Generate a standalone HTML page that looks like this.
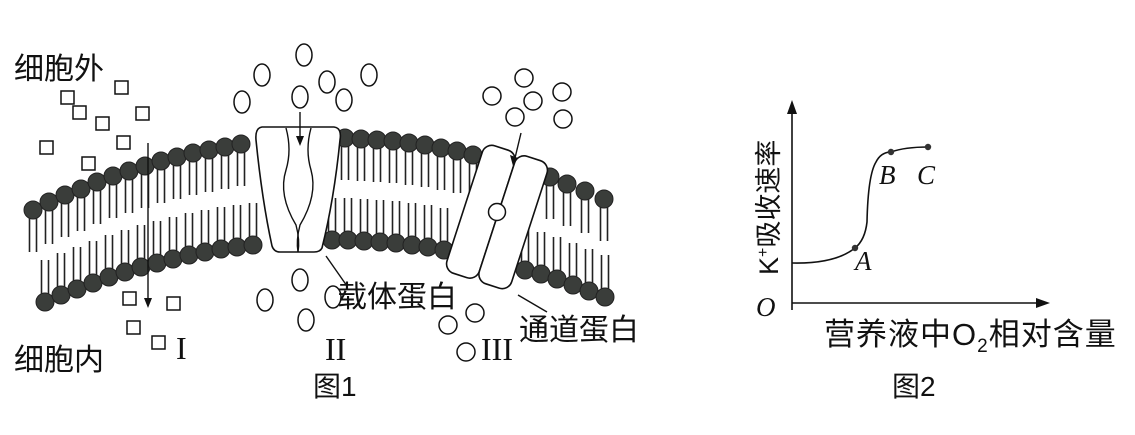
<!DOCTYPE html>
<html><head><meta charset="utf-8"><style>
html,body{margin:0;padding:0;background:#fff;}
svg{display:block;}
text{font-family:"Liberation Serif","Noto Serif CJK SC",serif;fill:#111;}
.cjk{font-family:"Liberation Sans","Noto Sans CJK SC",sans-serif;}
</style></head><body>
<svg width="1135" height="435" viewBox="0 0 1135 435" xmlns="http://www.w3.org/2000/svg">
<defs>
<g id="tp"><line x1="-3.5" y1="0" x2="-3.5" y2="42" stroke="#222" stroke-width="1.6"/><line x1="3.5" y1="0" x2="3.5" y2="42" stroke="#222" stroke-width="1.6"/><circle r="9" fill="#3a3d3a" stroke="#222" stroke-width="1"/></g>
<g id="bt"><line x1="-3.5" y1="0" x2="-3.5" y2="-42" stroke="#222" stroke-width="1.6"/><line x1="3.5" y1="0" x2="3.5" y2="-42" stroke="#222" stroke-width="1.6"/><circle r="9" fill="#3a3d3a" stroke="#222" stroke-width="1"/></g>
<rect id="sq" width="13" height="13" fill="#fff" stroke="#111" stroke-width="1.5"/>
<ellipse id="ci" rx="8" ry="11" fill="#fff" stroke="#111" stroke-width="1.5"/>
</defs>
<g>
<use href="#tp" x="33" y="210"/><use href="#tp" x="49" y="202"/><use href="#tp" x="65" y="195"/><use href="#tp" x="81" y="189"/><use href="#tp" x="97" y="182"/><use href="#tp" x="113" y="176"/><use href="#tp" x="129" y="171"/><use href="#tp" x="145" y="166"/><use href="#tp" x="161" y="161"/><use href="#tp" x="177" y="157"/><use href="#tp" x="193" y="153"/><use href="#tp" x="209" y="150"/><use href="#tp" x="225" y="147"/><use href="#tp" x="241" y="144"/>
<use href="#tp" x="345" y="138"/><use href="#tp" x="361" y="139"/><use href="#tp" x="377" y="140"/><use href="#tp" x="393" y="141"/><use href="#tp" x="409" y="143"/><use href="#tp" x="425" y="145"/><use href="#tp" x="441" y="148"/><use href="#tp" x="457" y="151"/><use href="#tp" x="473" y="155"/>
<use href="#tp" x="550" y="177"/><use href="#tp" x="567" y="184"/><use href="#tp" x="585" y="191"/><use href="#tp" x="604" y="199"/>
<use href="#bt" x="45" y="302"/><use href="#bt" x="61" y="295"/><use href="#bt" x="77" y="289"/><use href="#bt" x="93" y="283"/><use href="#bt" x="109" y="277"/><use href="#bt" x="125" y="272"/><use href="#bt" x="141" y="267"/><use href="#bt" x="157" y="263"/><use href="#bt" x="173" y="259"/><use href="#bt" x="189" y="255"/><use href="#bt" x="205" y="252"/><use href="#bt" x="221" y="249"/><use href="#bt" x="237" y="247"/><use href="#bt" x="253" y="245"/>
<use href="#bt" x="332" y="240"/><use href="#bt" x="348" y="240"/><use href="#bt" x="364" y="241"/><use href="#bt" x="380" y="242"/><use href="#bt" x="396" y="243"/><use href="#bt" x="412" y="245"/><use href="#bt" x="428" y="247"/><use href="#bt" x="444" y="250"/>
<use href="#bt" x="525" y="270"/><use href="#bt" x="541" y="274"/><use href="#bt" x="557" y="279"/><use href="#bt" x="573" y="285"/><use href="#bt" x="589" y="291"/><use href="#bt" x="605" y="297"/>
</g>
<path d="M262,127 L334,127 Q342,128 340,140 Q334,200 322,248 Q320,252 314,252 L280,252 Q274,252 272,246 Q262,200 256,140 Q255,128 262,127 Z" fill="#fff" stroke="#111" stroke-width="1.6"/>
<path d="M286,128 Q292,150 286,170 Q278,195 296,225 Q300,240 298,252" fill="none" stroke="#111" stroke-width="1.4"/>
<path d="M311,128 Q305,150 311,170 Q318,195 300,225 Q296,240 298,252" fill="none" stroke="#111" stroke-width="1.4"/>
<line x1="300" y1="112" x2="300" y2="142" stroke="#111" stroke-width="1.4"/><polygon points="296,136 304,136 300,146" fill="#111"/>
<g transform="translate(497,217) rotate(18)">
<rect x="-34" y="-67" width="34" height="134" rx="10" fill="#fff" stroke="#111" stroke-width="1.6"/>
<rect x="0" y="-67" width="34" height="134" rx="10" fill="#fff" stroke="#111" stroke-width="1.6"/>
</g>
<circle cx="497" cy="212" r="8.5" fill="#fff" stroke="#111" stroke-width="1.5"/>
<line x1="521" y1="133" x2="515" y2="158" stroke="#111" stroke-width="1.4"/><polygon points="510,155 518,158 513,166" fill="#111"/>
<line x1="148" y1="143" x2="148" y2="300" stroke="#111" stroke-width="1.4"/><polygon points="144,298 152,298 148,308" fill="#111"/>
<use href="#sq" x="61" y="91"/><use href="#sq" x="115" y="81"/><use href="#sq" x="73" y="106"/><use href="#sq" x="96" y="117"/><use href="#sq" x="136" y="107"/><use href="#sq" x="40" y="141"/><use href="#sq" x="117" y="136"/><use href="#sq" x="82" y="157"/>
<use href="#sq" x="123" y="292"/><use href="#sq" x="167" y="297"/><use href="#sq" x="127" y="321"/><use href="#sq" x="152" y="336"/>
<use href="#ci" x="304" y="55"/><use href="#ci" x="262" y="75"/><use href="#ci" x="369" y="75"/><use href="#ci" x="242" y="102"/><use href="#ci" x="300" y="97"/><use href="#ci" x="327" y="82"/><use href="#ci" x="344" y="100"/>
<use href="#ci" x="300" y="280"/><use href="#ci" x="265" y="300"/><use href="#ci" x="333" y="297"/><use href="#ci" x="306" y="320"/>
<circle cx="524" cy="78" r="9" fill="#fff" stroke="#111" stroke-width="1.5"/><circle cx="492" cy="96" r="9" fill="#fff" stroke="#111" stroke-width="1.5"/><circle cx="533" cy="101" r="9" fill="#fff" stroke="#111" stroke-width="1.5"/><circle cx="562" cy="92" r="9" fill="#fff" stroke="#111" stroke-width="1.5"/><circle cx="515" cy="117" r="9" fill="#fff" stroke="#111" stroke-width="1.5"/><circle cx="563" cy="119" r="9" fill="#fff" stroke="#111" stroke-width="1.5"/>
<circle cx="475" cy="313" r="9" fill="#fff" stroke="#111" stroke-width="1.5"/><circle cx="448" cy="325" r="9" fill="#fff" stroke="#111" stroke-width="1.5"/><circle cx="466" cy="352" r="9" fill="#fff" stroke="#111" stroke-width="1.5"/>
<line x1="326" y1="256" x2="347" y2="286" stroke="#111" stroke-width="1.4"/>
<line x1="518" y1="295" x2="547" y2="312" stroke="#111" stroke-width="1.4"/>
<text class="cjk" x="14" y="79" font-size="30">细胞外</text>
<text class="cjk" x="14" y="370" font-size="30">细胞内</text>
<text class="cjk" x="337" y="307" font-size="30">载体蛋白</text>
<text class="cjk" x="519" y="340" font-size="30">通道蛋白</text>
<text x="176" y="359" font-size="32">I</text>
<text x="325" y="360" font-size="32">II</text>
<text x="481" y="360" font-size="32">III</text>
<text class="cjk" x="313" y="396" font-size="28">图1</text>
<line x1="792" y1="310" x2="792" y2="110" stroke="#111" stroke-width="1.6"/><polygon points="787,114 797,114 792,100" fill="#111"/>
<line x1="792" y1="303" x2="1040" y2="303" stroke="#111" stroke-width="1.6"/><polygon points="1036,298 1036,308 1050,303" fill="#111"/>
<path d="M792,263 Q835,264 855,248 Q865,240 867,222 Q868,175 876,162 Q881,152 891,152 Q905,147 928,147" fill="none" stroke="#111" stroke-width="1.6"/>
<circle cx="855" cy="248" r="3.2" fill="#333"/><circle cx="891" cy="152" r="3.2" fill="#333"/><circle cx="928" cy="147" r="3.2" fill="#333"/>
<text x="855" y="270" font-size="27" font-style="italic">A</text>
<text x="879" y="184" font-size="27" font-style="italic">B</text>
<text x="917" y="184" font-size="27" font-style="italic">C</text>
<text x="756" y="316" font-size="27" font-style="italic">O</text>
<text class="cjk" transform="translate(778,275) rotate(-90)" font-size="27">K<tspan font-size="16" dy="-10">+</tspan><tspan dy="10">吸收速率</tspan></text>
<text class="cjk" x="824" y="345" font-size="31" letter-spacing="1">营养液中O<tspan font-size="19" dy="7">2</tspan><tspan dy="-7">相对含量</tspan></text>
<text class="cjk" x="892" y="396" font-size="28">图2</text>
</svg>
</body></html>
